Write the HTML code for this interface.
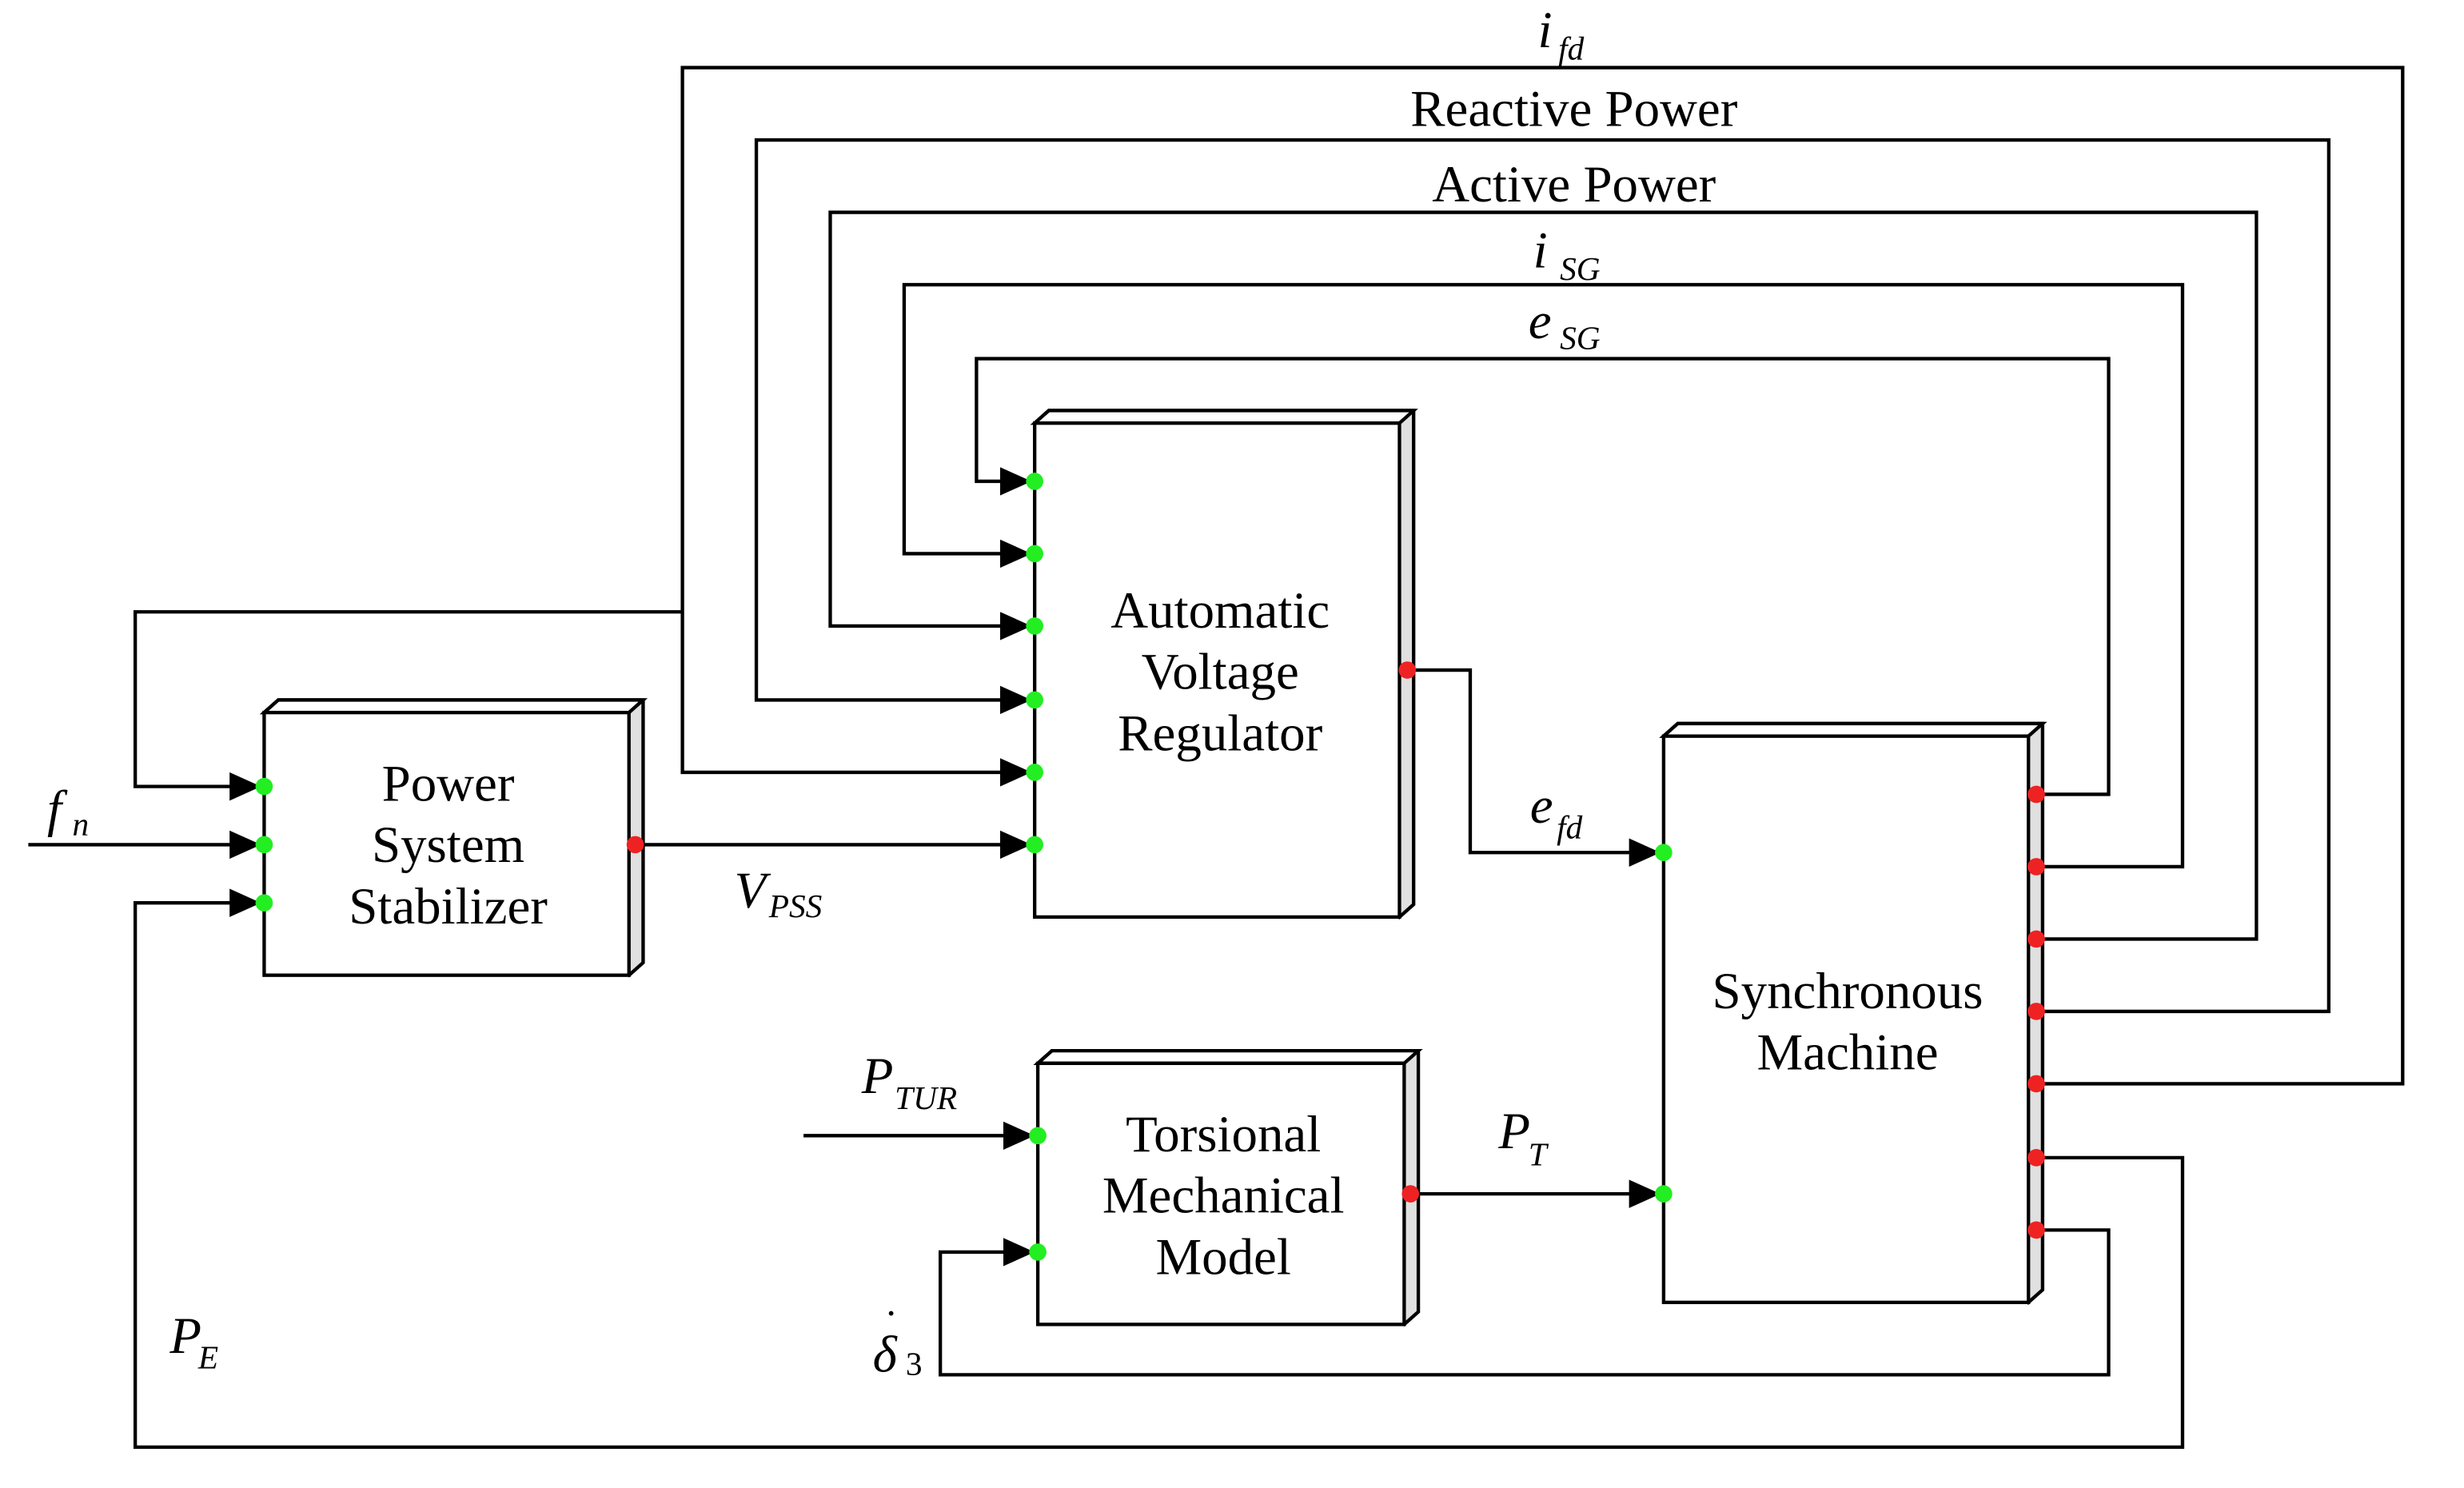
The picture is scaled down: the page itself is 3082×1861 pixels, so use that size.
<!DOCTYPE html>
<html><head><meta charset="utf-8"><style>
html,body{margin:0;padding:0;background:#fff;}
svg{display:block;}
text{font-family:"Liberation Serif",serif;fill:#000;}
.t{font-size:33px;text-anchor:middle;}
.l{font-size:33px;font-style:italic;}
.s{font-size:21px;font-style:italic;}
</style></head><body>
<svg width="3082" height="1861" viewBox="0 0 1567 946" preserveAspectRatio="none" xmlns="http://www.w3.org/2000/svg">
<defs>
<marker id="a" markerWidth="20" markerHeight="18" refX="20" refY="9" orient="auto" markerUnits="userSpaceOnUse">
<path d="M0,0 L20,9 L0,18 Z" fill="#000"/></marker>
</defs>
<g fill="none" stroke="#000" stroke-width="2.2">
<path d="M168,453 L177,445 L409,445 L409,612 L400,620 Z" fill="#e0e0e0"/>
<path d="M168,453 L177,445 L409,445 L400,453 Z" fill="#fff"/>
<rect x="168" y="453" width="232" height="167" fill="#fff"/>
<path d="M658,269 L667,261 L899,261 L899,575 L890,583 Z" fill="#e0e0e0"/>
<path d="M658,269 L667,261 L899,261 L890,269 Z" fill="#fff"/>
<rect x="658" y="269" width="232" height="314" fill="#fff"/>
<path d="M1058,468 L1067,460 L1299,460 L1299,820 L1290,828 Z" fill="#e0e0e0"/>
<path d="M1058,468 L1067,460 L1299,460 L1290,468 Z" fill="#fff"/>
<rect x="1058" y="468" width="232" height="360" fill="#fff"/>
<path d="M660,676 L669,668 L902,668 L902,834 L893,842 Z" fill="#e0e0e0"/>
<path d="M660,676 L669,668 L902,668 L893,676 Z" fill="#fff"/>
<rect x="660" y="676" width="233" height="166" fill="#fff"/>

<polyline points="1295,689 1528,689 1528,43 434,43 434,491 656,491" marker-end="url(#a)"/>
<polyline points="434,389 86,389 86,500 166,500" marker-end="url(#a)"/>
<polyline points="1295,643 1481,643 1481,89 481,89 481,445 656,445" marker-end="url(#a)"/>
<polyline points="1295,597 1435,597 1435,135 528,135 528,398 656,398" marker-end="url(#a)"/>
<polyline points="1295,551 1388,551 1388,181 575,181 575,352 656,352" marker-end="url(#a)"/>
<polyline points="1295,505 1341,505 1341,228 621,228 621,306 656,306" marker-end="url(#a)"/>
<polyline points="404,537 656,537" marker-end="url(#a)"/>
<polyline points="18,537 166,537" marker-end="url(#a)"/>
<polyline points="1295,736 1388,736 1388,920 86,920 86,574 166,574" marker-end="url(#a)"/>
<polyline points="1295,782 1341,782 1341,874 598,874 598,796 658,796" marker-end="url(#a)"/>
<polyline points="511,722 658,722" marker-end="url(#a)"/>
<polyline points="897,759 1056,759" marker-end="url(#a)"/>
<polyline points="895,426 935,426 935,542 1056,542" marker-end="url(#a)"/>
</g>
<g fill="#22ee22">
<circle cx="168" cy="500" r="5.5"/><circle cx="168" cy="537" r="5.5"/><circle cx="168" cy="574" r="5.5"/>
<circle cx="658" cy="306" r="5.5"/><circle cx="658" cy="352" r="5.5"/><circle cx="658" cy="398" r="5.5"/>
<circle cx="658" cy="445" r="5.5"/><circle cx="658" cy="491" r="5.5"/><circle cx="658" cy="537" r="5.5"/>
<circle cx="1058" cy="542" r="5.5"/><circle cx="1058" cy="759" r="5.5"/>
<circle cx="660" cy="722" r="5.5"/><circle cx="660" cy="796" r="5.5"/>
</g>
<g fill="#ee2222">
<circle cx="404" cy="537" r="5.5"/><circle cx="895" cy="426" r="5.5"/><circle cx="897" cy="759" r="5.5"/>
<circle cx="1295" cy="505" r="5.5"/><circle cx="1295" cy="551" r="5.5"/><circle cx="1295" cy="597" r="5.5"/>
<circle cx="1295" cy="643" r="5.5"/><circle cx="1295" cy="689" r="5.5"/><circle cx="1295" cy="736" r="5.5"/>
<circle cx="1295" cy="782" r="5.5"/>
</g>
<text class="t" x="285" y="509">Power</text>
<text class="t" x="285" y="548">System</text>
<text class="t" x="285" y="587">Stabilizer</text>
<text class="t" x="776" y="399">Automatic</text>
<text class="t" x="776" y="438">Voltage</text>
<text class="t" x="776" y="477">Regulator</text>
<text class="t" x="1175" y="641">Synchronous</text>
<text class="t" x="1175" y="680">Machine</text>
<text class="t" x="778" y="732">Torsional</text>
<text class="t" x="778" y="771">Mechanical</text>
<text class="t" x="778" y="810">Model</text>
<text class="l" x="978" y="30">i</text><text class="s" x="991" y="38">fd</text>
<text class="t" x="1001" y="80">Reactive Power</text>
<text class="t" x="1001" y="128">Active Power</text>
<text class="l" x="975" y="170">i</text><text class="s" x="992" y="178">SG</text>
<text class="l" x="972" y="215">e</text><text class="s" x="992" y="222">SG</text>
<text class="l" x="973" y="523">e</text><text class="s" x="990" y="533">fd</text>
<text class="l" x="467" y="577">V</text><text class="s" x="489" y="583">PSS</text>
<text class="l" x="30" y="525">f</text><text class="s" x="46" y="531">n</text>
<text class="l" x="548" y="695">P</text><text class="s" x="569" y="705">TUR</text>
<text class="l" x="953" y="730">P</text><text class="s" x="972" y="741">T</text>
<text class="l" x="108" y="860">P</text><text class="s" x="126" y="870">E</text>
<text class="l" x="555" y="872">δ</text><text x="562" y="852" style="font-size:28px">˙</text><text x="576" y="874" style="font-size:21px">3</text>
</svg>
</body></html>
